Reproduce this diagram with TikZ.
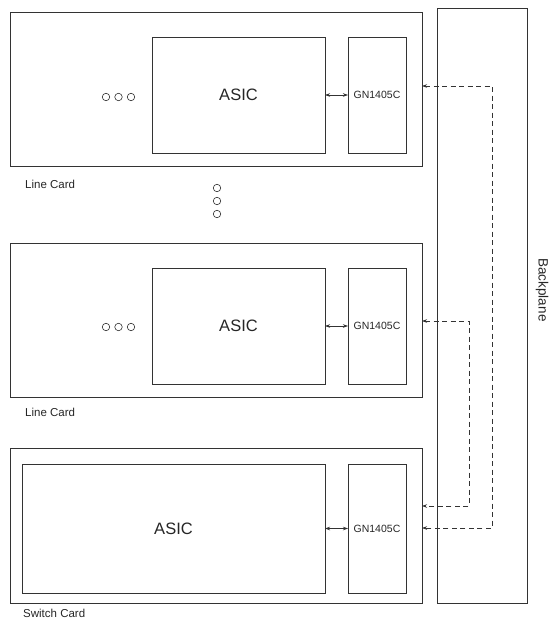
\documentclass[tikz,border=0pt]{standalone}
\usepackage{fontspec}
\setmainfont{Liberation Sans}
\usetikzlibrary{arrows.meta}
\definecolor{ln}{HTML}{333333}
\tikzset{
  box/.style={draw=ln, line width=0.8pt, inner sep=0pt, outer sep=0pt, rectangle},
  dotc/.style={draw=ln, line width=0.6pt, circle, inner sep=0pt, minimum size=7.5pt},
  lbl/.style={anchor=west, inner sep=0pt, font=\fontsize{11.5}{13}\selectfont, text=black!85},
  biglbl/.style={font=\fontsize{16.5}{19}\selectfont, text=black!85, inner sep=0pt},
  gnlbl/.style={font=\fontsize{10.5}{12}\selectfont, text=black!85, inner sep=0pt},
  link/.style={line width=0.6pt, draw=ln, {Stealth[length=5pt,width=3.5pt]}-{Stealth[length=5pt,width=3.5pt]}},
  dlink/.style={line width=0.6pt, draw=ln, dash pattern=on 5pt off 3.5pt, {Stealth[length=5pt,width=3.5pt]}-{Stealth[length=5pt,width=3.5pt]}}
}
\begin{document}
\begin{tikzpicture}[x=1pt,y=-1pt]
\useasboundingbox (0,0) rectangle (548,620);
% backplane
\node[box, minimum width=90pt, minimum height=595pt] (bp) at (482,305.5) {};
\node[rotate=-90, font=\fontsize{13.5}{15}\selectfont, text=black!85, inner sep=0pt] (bpl) at (542,290) {Backplane};
% card 1
\node[box, minimum width=412pt, minimum height=154pt] (card1) at (216,89) {};
\node[box, minimum width=173pt, minimum height=116pt] (asic1) at (238.5,95) {};
\node[biglbl] (asic1t) at (asic1.center) {ASIC};
\node[box, minimum width=58pt, minimum height=116pt] (gn1) at (377,95) {};
\node[gnlbl] (gn1t) at (gn1.center) {GN1405C};
\node[dotc] (d11) at (106,97) {};
\node[dotc] (d12) at (118.5,97) {};
\node[dotc] (d13) at (131,97) {};
\node[lbl] (l1) at (25,184) {Line Card};
\draw[link] (asic1.east) -- (gn1.west);
% vertical dots
\node[dotc] (v1) at (217,188) {};
\node[dotc] (v2) at (217,201) {};
\node[dotc] (v3) at (217,214) {};
% card 2
\node[box, minimum width=412pt, minimum height=154pt] (card2) at (216,320) {};
\node[box, minimum width=173pt, minimum height=116pt] (asic2) at (238.5,326) {};
\node[biglbl] (asic2t) at (asic2.center) {ASIC};
\node[box, minimum width=58pt, minimum height=116pt] (gn2) at (377,326) {};
\node[gnlbl] (gn2t) at (gn2.center) {GN1405C};
\node[dotc] (d21) at (106,327) {};
\node[dotc] (d22) at (118.5,327) {};
\node[dotc] (d23) at (131,327) {};
\node[lbl] (l2) at (25,412) {Line Card};
\draw[link] (asic2.east) -- (gn2.west);
% card 3
\node[box, minimum width=412pt, minimum height=155pt] (card3) at (216,525.5) {};
\node[box, minimum width=303pt, minimum height=129pt] (asic3) at (173.5,528.5) {};
\node[biglbl] (asic3t) at (asic3.center) {ASIC};
\node[box, minimum width=58pt, minimum height=129pt] (gn3) at (377,528.5) {};
\node[gnlbl] (gn3t) at (gn3.center) {GN1405C};
\node[lbl] (l3) at (23,613) {Switch Card};
\draw[link] (asic3.east) -- (gn3.west);
% backplane links
\coordinate (a1) at (card1.east |- 0,86);
\coordinate (a2) at (card2.east |- 0,321);
\coordinate (a3) at (card3.east |- 0,506);
\coordinate (a4) at (card3.east |- 0,528);
\draw[dlink] (a1) -- (492,86) -- (492,528) -- (a4);
\draw[dlink] (a2) -- (469,321) -- (469,506) -- (a3);
\end{tikzpicture}
\end{document}
